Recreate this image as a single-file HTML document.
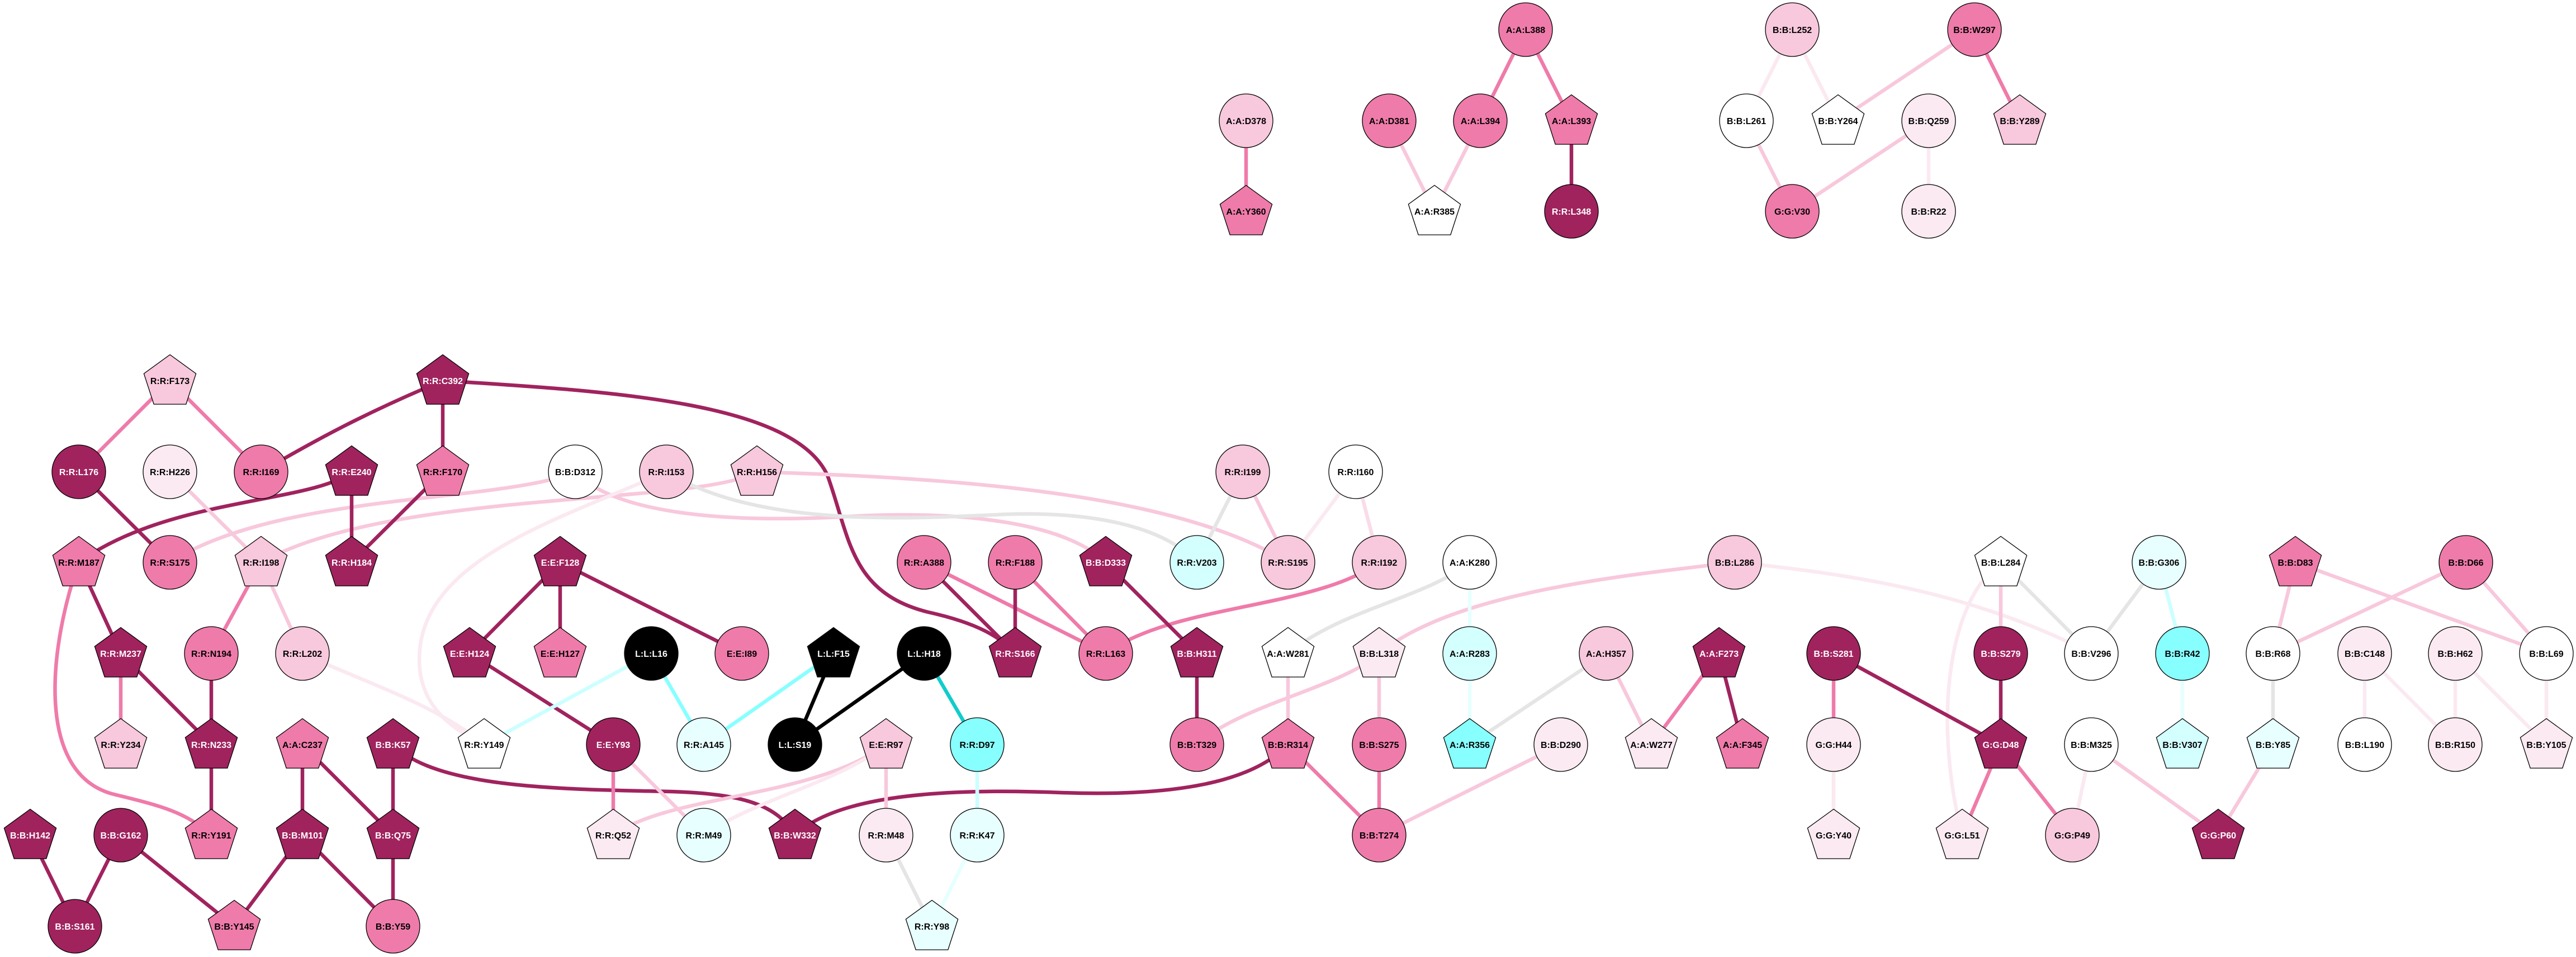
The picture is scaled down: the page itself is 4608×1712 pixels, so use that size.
<!DOCTYPE html>
<html><head><meta charset="utf-8"><style>
html,body{margin:0;padding:0;background:#fff;}
svg{display:block;}
text{font-family:"Liberation Sans",Arial,sans-serif;font-size:16px;font-weight:bold;text-anchor:middle;fill:#000;}
text.w{fill:#fff;}
.e{fill:none;stroke-width:6.5;stroke-linecap:butt;}
.D{stroke:#A0235E}.M{stroke:#EF7BAA}.L{stroke:#F8C8DC}.V{stroke:#FBE9F1}.G{stroke:#E5E5E5}
.C{stroke:#88FFFF}.LC{stroke:#CCFFFF}.VC{stroke:#E6FFFF}.T{stroke:#11CCCC}.K{stroke:#000}.L2{stroke:#F9DCE8}
.n{stroke:#000;stroke-width:1.3;}
.fD{fill:#A0235E}.fM{fill:#EF7BAA}.fL{fill:#F8C8DC}.fV{fill:#FBEAF2}.fW{fill:#fff}.fC{fill:#88FFFF}.fLC{fill:#D4FFFF}.fVC{fill:#E8FFFF}.fK{fill:#000}
</style></head><body>
<svg width="4608" height="1712" viewBox="0 0 4608 1712" xmlns="http://www.w3.org/2000/svg">
<defs>
<polygon id="pg" points="0,-46.5 46.6,-12.6 28.8,42.1 -28.8,42.1 -46.6,-12.6"/>
</defs>
<g>
<!-- curved edges -->
<path class="e D" d="M792 681 C1100 700,1420 720,1480 850 C1520 960,1520 1060,1660 1095 C1750 1115,1790 1140,1816 1169"/>
<path class="e D" d="M629 844 C560 900,300 890,141 1006"/>
<path class="e L" d="M1029 844 C900 900,500 880,304 1006"/>
<path class="e L" d="M1029 844 C1100 920,1300 935,1500 925 C1700 912,1900 930,1978 1006"/>
<path class="e L" d="M1354 844 C1250 905,700 875,467 1006"/>
<path class="e G" d="M1192 844 C1350 940,1600 930,1800 920 C1950 915,2080 940,2141 1006"/>
<path class="e L" d="M1354 844 C1700 855,2100 880,2304 1006"/>
<path class="e V" d="M1192 844 C1000 930,750 1000,750 1180 C750 1270,820 1310,866 1332"/>
<path class="e V" d="M541 1169 C650 1220,780 1260,866 1332"/>
<path class="e M" d="M141 1006 C90 1150,60 1380,200 1420 C280 1440,330 1450,378 1494"/>
<path class="e D" d="M703 1332 C780 1410,1000 1412,1200 1416 C1330 1420,1390 1440,1422 1494"/>
<path class="e D" d="M1422 1494 C1500 1420,1700 1410,1900 1418 C2100 1425,2240 1400,2304 1332"/>
<path class="e L" d="M1097 1494 C1200 1420,1450 1430,1585 1332"/>
<path class="e V" d="M1259 1494 C1350 1430,1500 1400,1585 1332"/>
<path class="e M" d="M1978 1169 C2100 1080,2350 1090,2467 1006"/>
<path class="e G" d="M2304 1169 C2400 1090,2550 1070,2629 1006"/>
<path class="e L" d="M2141 1332 C2220 1260,2400 1230,2467 1169"/>
<path class="e L" d="M2467 1169 C2600 1060,2900 1030,3103 1006"/>
<path class="e V" d="M3103 1006 C3350 1030,3550 1070,3741 1169"/>
<path class="e V" d="M3579 1006 C3480 1080,3460 1300,3510 1494"/>
<!-- straight edges -->
<line class="e M" x1="304" y1="681" x2="141" y2="844"/>
<line class="e M" x1="304" y1="681" x2="467" y2="844"/>
<path class="e D" d="M792 681 C650 740,560 790,467 844"/>
<line class="e D" x1="792" y1="681" x2="792" y2="844"/>
<line class="e D" x1="141" y1="844" x2="304" y2="1006"/>
<line class="e L" x1="304" y1="844" x2="467" y2="1006"/>
<line class="e D" x1="629" y1="844" x2="629" y2="1006"/>
<line class="e D" x1="792" y1="844" x2="629" y2="1006"/>
<line class="e D" x1="141" y1="1006" x2="216" y2="1169"/>
<line class="e M" x1="467" y1="1006" x2="378" y2="1169"/>
<line class="e L" x1="467" y1="1006" x2="541" y2="1169"/>
<line class="e M" x1="216" y1="1169" x2="216" y2="1332"/>
<line class="e D" x1="216" y1="1169" x2="378" y2="1332"/>
<line class="e D" x1="378" y1="1169" x2="378" y2="1332"/>
<line class="e D" x1="378" y1="1332" x2="378" y2="1494"/>
<line class="e D" x1="541" y1="1332" x2="541" y2="1494"/>
<line class="e D" x1="541" y1="1332" x2="703" y2="1494"/>
<line class="e D" x1="703" y1="1332" x2="703" y2="1494"/>
<line class="e D" x1="703" y1="1494" x2="703" y2="1657"/>
<line class="e D" x1="541" y1="1494" x2="419" y2="1657"/>
<line class="e D" x1="541" y1="1494" x2="703" y2="1657"/>
<line class="e D" x1="216" y1="1494" x2="419" y2="1657"/>
<line class="e D" x1="216" y1="1494" x2="134" y2="1657"/>
<line class="e D" x1="54" y1="1494" x2="134" y2="1657"/>
<line class="e D" x1="1002" y1="1006" x2="840" y2="1169"/>
<line class="e D" x1="1002" y1="1006" x2="1002" y2="1169"/>
<line class="e D" x1="1002" y1="1006" x2="1327" y2="1169"/>
<line class="e D" x1="840" y1="1169" x2="1097" y2="1332"/>
<line class="e M" x1="1097" y1="1332" x2="1097" y2="1494"/>
<line class="e L" x1="1097" y1="1332" x2="1259" y2="1494"/>
<line class="e LC" x1="1165" y1="1169" x2="866" y2="1332"/>
<line class="e C" x1="1165" y1="1169" x2="1259" y2="1332"/>
<line class="e C" x1="1491" y1="1169" x2="1259" y2="1332"/>
<line class="e K" x1="1491" y1="1169" x2="1422" y2="1332"/>
<line class="e K" x1="1653" y1="1169" x2="1422" y2="1332"/>
<line class="e T" x1="1653" y1="1169" x2="1748" y2="1332"/>
<line class="e LC" x1="1748" y1="1332" x2="1748" y2="1494"/>
<line class="e VC" x1="1748" y1="1494" x2="1667" y2="1657"/>
<line class="e G" x1="1585" y1="1494" x2="1667" y2="1657"/>
<line class="e L" x1="1585" y1="1332" x2="1585" y2="1494"/>
<line class="e D" x1="1653" y1="1006" x2="1816" y2="1169"/>
<line class="e M" x1="1653" y1="1006" x2="1978" y2="1169"/>
<line class="e D" x1="1816" y1="1006" x2="1816" y2="1169"/>
<line class="e M" x1="1816" y1="1006" x2="1978" y2="1169"/>
<line class="e D" x1="1978" y1="1006" x2="2141" y2="1169"/>
<line class="e D" x1="2141" y1="1169" x2="2141" y2="1332"/>
<line class="e G" x1="2223" y1="844" x2="2141" y2="1006"/>
<line class="e L" x1="2223" y1="844" x2="2304" y2="1006"/>
<line class="e V" x1="2425" y1="844" x2="2304" y2="1006"/>
<line class="e L2" x1="2425" y1="844" x2="2467" y2="1006"/>
<line class="e L" x1="2304" y1="1169" x2="2304" y2="1332"/>
<line class="e M" x1="2304" y1="1332" x2="2467" y2="1494"/>
<line class="e L" x1="2467" y1="1169" x2="2467" y2="1332"/>
<line class="e M" x1="2467" y1="1332" x2="2467" y2="1494"/>
<line class="e L" x1="2467" y1="1494" x2="2792" y2="1332"/>
<line class="e VC" x1="2629" y1="1006" x2="2629" y2="1169"/>
<line class="e VC" x1="2629" y1="1169" x2="2629" y2="1332"/>
<line class="e G" x1="2629" y1="1332" x2="2873" y2="1169"/>
<line class="e L" x1="2873" y1="1169" x2="2954" y2="1332"/>
<line class="e M" x1="3075" y1="1169" x2="2954" y2="1332"/>
<line class="e D" x1="3075" y1="1169" x2="3117" y2="1332"/>
<line class="e M" x1="3280" y1="1169" x2="3280" y2="1332"/>
<line class="e D" x1="3280" y1="1169" x2="3579" y2="1332"/>
<line class="e V" x1="3280" y1="1332" x2="3280" y2="1494"/>
<line class="e L" x1="3579" y1="1006" x2="3579" y2="1169"/>
<line class="e G" x1="3579" y1="1006" x2="3741" y2="1169"/>
<line class="e D" x1="3579" y1="1169" x2="3579" y2="1332"/>
<line class="e M" x1="3579" y1="1332" x2="3510" y2="1494"/>
<line class="e M" x1="3579" y1="1332" x2="3707" y2="1494"/>
<line class="e V" x1="3741" y1="1332" x2="3707" y2="1494"/>
<line class="e L" x1="3741" y1="1332" x2="3968" y2="1494"/>
<line class="e G" x1="3862" y1="1006" x2="3741" y2="1169"/>
<line class="e LC" x1="3862" y1="1006" x2="3904" y2="1169"/>
<line class="e VC" x1="3904" y1="1169" x2="3904" y2="1332"/>
<line class="e L" x1="4106" y1="1006" x2="4066" y2="1169"/>
<line class="e L" x1="4106" y1="1006" x2="4555" y2="1169"/>
<line class="e L" x1="4411" y1="1006" x2="4066" y2="1169"/>
<line class="e L" x1="4411" y1="1006" x2="4555" y2="1169"/>
<line class="e G" x1="4066" y1="1169" x2="4066" y2="1332"/>
<line class="e L" x1="4066" y1="1332" x2="3968" y2="1494"/>
<line class="e V" x1="4230" y1="1169" x2="4230" y2="1332"/>
<line class="e V" x1="4230" y1="1169" x2="4392" y2="1332"/>
<line class="e V" x1="4392" y1="1169" x2="4392" y2="1332"/>
<line class="e V" x1="4392" y1="1169" x2="4555" y2="1332"/>
<line class="e V" x1="4555" y1="1169" x2="4555" y2="1332"/>
<!-- top -->
<line class="e M" x1="2229" y1="216" x2="2229" y2="378"/>
<line class="e L" x1="2485" y1="216" x2="2566" y2="378"/>
<line class="e L" x1="2648" y1="216" x2="2566" y2="378"/>
<line class="e M" x1="2729" y1="53" x2="2648" y2="216"/>
<line class="e M" x1="2729" y1="53" x2="2811" y2="216"/>
<line class="e D" x1="2811" y1="216" x2="2811" y2="378"/>
<line class="e V" x1="3206" y1="53" x2="3124" y2="216"/>
<line class="e V" x1="3206" y1="53" x2="3288" y2="216"/>
<line class="e L" x1="3532" y1="53" x2="3288" y2="216"/>
<line class="e M" x1="3532" y1="53" x2="3613" y2="216"/>
<line class="e L" x1="3124" y1="216" x2="3206" y2="378"/>
<line class="e L" x1="3450" y1="216" x2="3206" y2="378"/>
<line class="e V" x1="3450" y1="216" x2="3450" y2="378"/>
</g>
<g class="nodes">
<!-- circles -->
<circle class="n fD" cx="141" cy="844" r="48"/><text class="w" x="141" y="850">R:R:L176</text>
<circle class="n fV" cx="304" cy="844" r="48"/><text x="304" y="850">R:R:H226</text>
<circle class="n fM" cx="467" cy="844" r="48"/><text x="467" y="850">R:R:I169</text>
<circle class="n fW" cx="1029" cy="844" r="48"/><text x="1029" y="850">B:B:D312</text>
<circle class="n fM" cx="304" cy="1006" r="48"/><text x="304" y="1012">R:R:S175</text>
<circle class="n fM" cx="378" cy="1169" r="48"/><text x="378" y="1175">R:R:N194</text>
<circle class="n fL" cx="541" cy="1169" r="48"/><text x="541" y="1175">R:R:L202</text>
<circle class="n fK" cx="1165" cy="1169" r="48"/><text class="w" x="1165" y="1175">L:L:L16</text>
<circle class="n fD" cx="1097" cy="1332" r="48"/><text class="w" x="1097" y="1338">E:E:Y93</text>
<circle class="n fD" cx="216" cy="1494" r="48"/><text class="w" x="216" y="1500">B:B:G162</text>
<circle class="n fD" cx="134" cy="1657" r="48"/><text class="w" x="134" y="1663">B:B:S161</text>
<circle class="n fM" cx="703" cy="1657" r="48"/><text x="703" y="1663">B:B:Y59</text>
<circle class="n fL" cx="1192" cy="844" r="48"/><text x="1192" y="850">R:R:I153</text>
<circle class="n fL" cx="2223" cy="844" r="48"/><text x="2223" y="850">R:R:I199</text>
<circle class="n fW" cx="2425" cy="844" r="48"/><text x="2425" y="850">R:R:I160</text>
<circle class="n fM" cx="1653" cy="1006" r="48"/><text x="1653" y="1012">R:R:A388</text>
<circle class="n fM" cx="1816" cy="1006" r="48"/><text x="1816" y="1012">R:R:F188</text>
<circle class="n fLC" cx="2141" cy="1006" r="48"/><text x="2141" y="1012">R:R:V203</text>
<circle class="n fL" cx="2304" cy="1006" r="48"/><text x="2304" y="1012">R:R:S195</text>
<circle class="n fM" cx="1327" cy="1169" r="48"/><text x="1327" y="1175">E:E:I89</text>
<circle class="n fK" cx="1653" cy="1169" r="48"/><text class="w" x="1653" y="1175">L:L:H18</text>
<circle class="n fM" cx="1978" cy="1169" r="48"/><text x="1978" y="1175">R:R:L163</text>
<circle class="n fVC" cx="1259" cy="1332" r="48"/><text x="1259" y="1338">R:R:A145</text>
<circle class="n fK" cx="1422" cy="1332" r="48"/><text class="w" x="1422" y="1338">L:L:S19</text>
<circle class="n fC" cx="1748" cy="1332" r="48"/><text x="1748" y="1338">R:R:D97</text>
<circle class="n fM" cx="2141" cy="1332" r="48"/><text x="2141" y="1338">B:B:T329</text>
<circle class="n fVC" cx="1259" cy="1494" r="48"/><text x="1259" y="1500">R:R:M49</text>
<circle class="n fV" cx="1585" cy="1494" r="48"/><text x="1585" y="1500">R:R:M48</text>
<circle class="n fVC" cx="1748" cy="1494" r="48"/><text x="1748" y="1500">R:R:K47</text>
<circle class="n fL" cx="2467" cy="1006" r="48"/><text x="2467" y="1012">R:R:I192</text>
<circle class="n fW" cx="2629" cy="1006" r="48"/><text x="2629" y="1012">A:A:K280</text>
<circle class="n fL" cx="3103" cy="1006" r="48"/><text x="3103" y="1012">B:B:L286</text>
<circle class="n fLC" cx="2629" cy="1169" r="48"/><text x="2629" y="1175">A:A:R283</text>
<circle class="n fL" cx="2873" cy="1169" r="48"/><text x="2873" y="1175">A:A:H357</text>
<circle class="n fD" cx="3280" cy="1169" r="48"/><text class="w" x="3280" y="1175">B:B:S281</text>
<circle class="n fM" cx="2467" cy="1332" r="48"/><text x="2467" y="1338">B:B:S275</text>
<circle class="n fV" cx="2792" cy="1332" r="48"/><text x="2792" y="1338">B:B:D290</text>
<circle class="n fV" cx="3280" cy="1332" r="48"/><text x="3280" y="1338">G:G:H44</text>
<circle class="n fM" cx="2467" cy="1494" r="48"/><text x="2467" y="1500">B:B:T274</text>
<circle class="n fVC" cx="3862" cy="1006" r="48"/><text x="3862" y="1012">B:B:G306</text>
<circle class="n fM" cx="4411" cy="1006" r="48"/><text x="4411" y="1012">B:B:D66</text>
<circle class="n fD" cx="3579" cy="1169" r="48"/><text class="w" x="3579" y="1175">B:B:S279</text>
<circle class="n fW" cx="3741" cy="1169" r="48"/><text x="3741" y="1175">B:B:V296</text>
<circle class="n fC" cx="3904" cy="1169" r="48"/><text x="3904" y="1175">B:B:R42</text>
<circle class="n fW" cx="4066" cy="1169" r="48"/><text x="4066" y="1175">B:B:R68</text>
<circle class="n fV" cx="4230" cy="1169" r="48"/><text x="4230" y="1175">B:B:C148</text>
<circle class="n fV" cx="4392" cy="1169" r="48"/><text x="4392" y="1175">B:B:H62</text>
<circle class="n fW" cx="4555" cy="1169" r="48"/><text x="4555" y="1175">B:B:L69</text>
<circle class="n fW" cx="3741" cy="1332" r="48"/><text x="3741" y="1338">B:B:M325</text>
<circle class="n fW" cx="4230" cy="1332" r="48"/><text x="4230" y="1338">B:B:L190</text>
<circle class="n fV" cx="4392" cy="1332" r="48"/><text x="4392" y="1338">B:B:R150</text>
<circle class="n fL" cx="3707" cy="1494" r="48"/><text x="3707" y="1500">G:G:P49</text>
<circle class="n fM" cx="2729" cy="53" r="48"/><text x="2729" y="59">A:A:L388</text>
<circle class="n fL" cx="3206" cy="53" r="48"/><text x="3206" y="59">B:B:L252</text>
<circle class="n fM" cx="3532" cy="53" r="48"/><text x="3532" y="59">B:B:W297</text>
<circle class="n fL" cx="2229" cy="216" r="48"/><text x="2229" y="222">A:A:D378</text>
<circle class="n fM" cx="2485" cy="216" r="48"/><text x="2485" y="222">A:A:D381</text>
<circle class="n fM" cx="2648" cy="216" r="48"/><text x="2648" y="222">A:A:L394</text>
<circle class="n fW" cx="3124" cy="216" r="48"/><text x="3124" y="222">B:B:L261</text>
<circle class="n fV" cx="3450" cy="216" r="48"/><text x="3450" y="222">B:B:Q259</text>
<circle class="n fD" cx="2811" cy="378" r="48"/><text class="w" x="2811" y="384">R:R:L348</text>
<circle class="n fM" cx="3206" cy="378" r="48"/><text x="3206" y="384">G:G:V30</text>
<circle class="n fV" cx="3450" cy="378" r="48"/><text x="3450" y="384">B:B:R22</text>
<!-- pentagons -->
<use href="#pg" class="n fL" x="304" y="681"/><text x="304" y="687">R:R:F173</text>
<use href="#pg" class="n fD" x="792" y="681"/><text class="w" x="792" y="687">R:R:C392</text>
<use href="#pg" class="n fD" x="629" y="844"/><text class="w" x="629" y="850">R:R:E240</text>
<use href="#pg" class="n fM" x="792" y="844"/><text x="792" y="850">R:R:F170</text>
<use href="#pg" class="n fM" x="141" y="1006"/><text x="141" y="1012">R:R:M187</text>
<use href="#pg" class="n fL" x="467" y="1006"/><text x="467" y="1012">R:R:I198</text>
<use href="#pg" class="n fD" x="629" y="1006"/><text class="w" x="629" y="1012">R:R:H184</text>
<use href="#pg" class="n fD" x="1002" y="1006"/><text class="w" x="1002" y="1012">E:E:F128</text>
<use href="#pg" class="n fD" x="216" y="1169"/><text class="w" x="216" y="1175">R:R:M237</text>
<use href="#pg" class="n fD" x="840" y="1169"/><text class="w" x="840" y="1175">E:E:H124</text>
<use href="#pg" class="n fM" x="1002" y="1169"/><text x="1002" y="1175">E:E:H127</text>
<use href="#pg" class="n fL" x="216" y="1332"/><text x="216" y="1338">R:R:Y234</text>
<use href="#pg" class="n fD" x="378" y="1332"/><text class="w" x="378" y="1338">R:R:N233</text>
<use href="#pg" class="n fM" x="541" y="1332"/><text x="541" y="1338">A:A:C237</text>
<use href="#pg" class="n fD" x="703" y="1332"/><text class="w" x="703" y="1338">B:B:K57</text>
<use href="#pg" class="n fW" x="866" y="1332"/><text x="866" y="1338">R:R:Y149</text>
<use href="#pg" class="n fD" x="54" y="1494"/><text class="w" x="54" y="1500">B:B:H142</text>
<use href="#pg" class="n fM" x="378" y="1494"/><text x="378" y="1500">R:R:Y191</text>
<use href="#pg" class="n fD" x="541" y="1494"/><text class="w" x="541" y="1500">B:B:M101</text>
<use href="#pg" class="n fD" x="703" y="1494"/><text class="w" x="703" y="1500">B:B:Q75</text>
<use href="#pg" class="n fV" x="1097" y="1494"/><text x="1097" y="1500">R:R:Q52</text>
<use href="#pg" class="n fM" x="419" y="1657"/><text x="419" y="1663">B:B:Y145</text>
<use href="#pg" class="n fL" x="1354" y="844"/><text x="1354" y="850">R:R:H156</text>
<use href="#pg" class="n fD" x="1978" y="1006"/><text class="w" x="1978" y="1012">B:B:D333</text>
<use href="#pg" class="n fK" x="1491" y="1169"/><text class="w" x="1491" y="1175">L:L:F15</text>
<use href="#pg" class="n fD" x="1816" y="1169"/><text class="w" x="1816" y="1175">R:R:S166</text>
<use href="#pg" class="n fD" x="2141" y="1169"/><text class="w" x="2141" y="1175">B:B:H311</text>
<use href="#pg" class="n fW" x="2304" y="1169"/><text x="2304" y="1175">A:A:W281</text>
<use href="#pg" class="n fL" x="1585" y="1332"/><text x="1585" y="1338">E:E:R97</text>
<use href="#pg" class="n fM" x="2304" y="1332"/><text x="2304" y="1338">B:B:R314</text>
<use href="#pg" class="n fD" x="1422" y="1494"/><text class="w" x="1422" y="1500">B:B:W332</text>
<use href="#pg" class="n fVC" x="1667" y="1657"/><text x="1667" y="1663">R:R:Y98</text>
<use href="#pg" class="n fV" x="2467" y="1169"/><text x="2467" y="1175">B:B:L318</text>
<use href="#pg" class="n fD" x="3075" y="1169"/><text class="w" x="3075" y="1175">A:A:F273</text>
<use href="#pg" class="n fC" x="2629" y="1332"/><text x="2629" y="1338">A:A:R356</text>
<use href="#pg" class="n fV" x="2954" y="1332"/><text x="2954" y="1338">A:A:W277</text>
<use href="#pg" class="n fM" x="3117" y="1332"/><text x="3117" y="1338">A:A:F345</text>
<use href="#pg" class="n fV" x="3280" y="1494"/><text x="3280" y="1500">G:G:Y40</text>
<use href="#pg" class="n fW" x="3579" y="1006"/><text x="3579" y="1012">B:B:L284</text>
<use href="#pg" class="n fM" x="4106" y="1006"/><text x="4106" y="1012">B:B:D83</text>
<use href="#pg" class="n fD" x="3579" y="1332"/><text class="w" x="3579" y="1338">G:G:D48</text>
<use href="#pg" class="n fLC" x="3904" y="1332"/><text x="3904" y="1338">B:B:V307</text>
<use href="#pg" class="n fVC" x="4066" y="1332"/><text x="4066" y="1338">B:B:Y85</text>
<use href="#pg" class="n fV" x="4555" y="1332"/><text x="4555" y="1338">B:B:Y105</text>
<use href="#pg" class="n fV" x="3510" y="1494"/><text x="3510" y="1500">G:G:L51</text>
<use href="#pg" class="n fD" x="3968" y="1494"/><text class="w" x="3968" y="1500">G:G:P60</text>
<use href="#pg" class="n fM" x="2811" y="216"/><text x="2811" y="222">A:A:L393</text>
<use href="#pg" class="n fW" x="3288" y="216"/><text x="3288" y="222">B:B:Y264</text>
<use href="#pg" class="n fL" x="3613" y="216"/><text x="3613" y="222">B:B:Y289</text>
<use href="#pg" class="n fM" x="2229" y="378"/><text x="2229" y="384">A:A:Y360</text>
<use href="#pg" class="n fW" x="2566" y="378"/><text x="2566" y="384">A:A:R385</text>
</g>
</svg>
</body></html>
